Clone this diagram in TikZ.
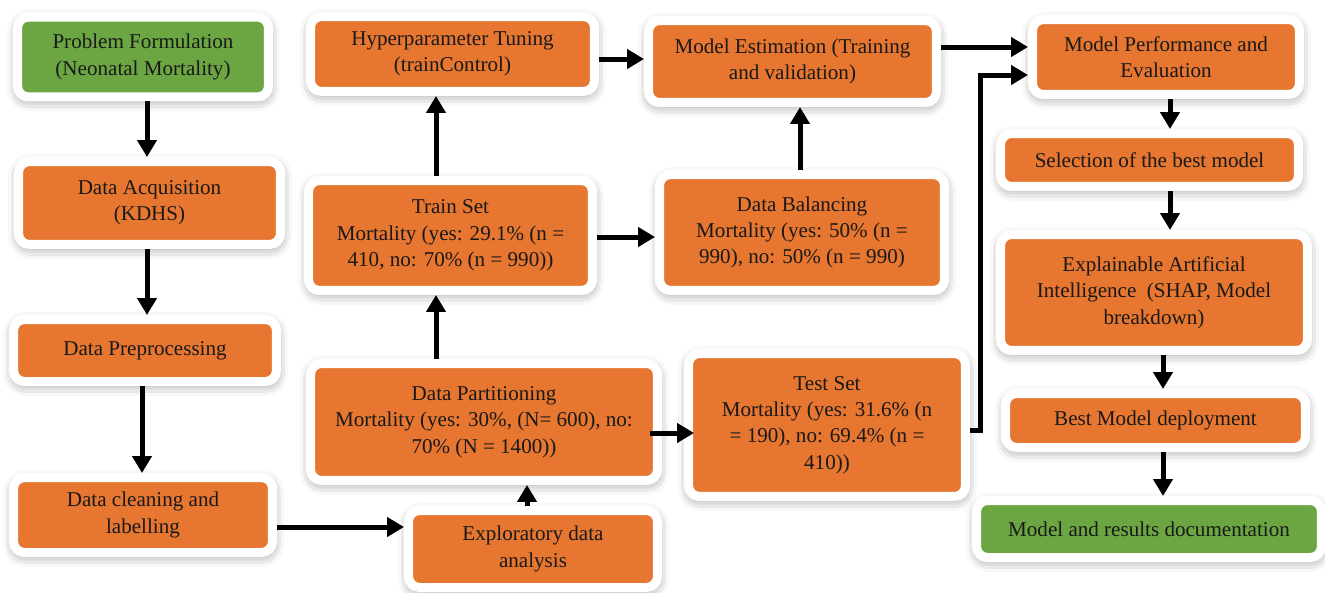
\documentclass[tikz,border=0pt]{standalone}
\usepackage{fontspec}
\setmainfont{Liberation Serif}
\usepackage{tikz}
\usetikzlibrary{arrows.meta,shadows.blur}
\definecolor{stageorange}{RGB}{230,118,48}
\definecolor{stagegreen}{RGB}{108,166,66}
\tikzset{
stage/.style={rounded corners=0.22cm, fill=stageorange, draw=white, line width=0.18cm,
  align=center, inner sep=0pt, text=black!90, font=\fontsize{12}{15}\selectfont,
  blur shadow={shadow xshift=0.01cm, shadow yshift=-0.07cm, shadow blur radius=0.22cm, shadow opacity=45}},
arr/.style={line width=0.1cm, -{Triangle[width=0.38cm,length=0.34cm]}}
}

\begin{document}
\begin{tikzpicture}[x=0.02cm,y=-0.02cm]
\useasboundingbox (0,0) rectangle (1325,592);
% first column
\node[stage, fill=stagegreen, minimum width=5.02cm, minimum height=1.60cm] (pf) at (143,57) {Problem Formulation\\(Neonatal Mortality)};
\node[stage, minimum width=5.24cm, minimum height=1.66cm] (da) at (149.5,203) {Data Acquisition\\(KDHS)};
\node[stage, minimum width=5.26cm, minimum height=1.24cm] (dp) at (145,350.5) {Data Preprocessing};
\node[stage, minimum width=5.18cm, minimum height=1.50cm] (dc) at (143,515) {Data cleaning and\\labelling};
% middle columns
\node[stage, minimum width=4.98cm, minimum height=1.54cm] (eda) at (533,549) {Exploratory data\\analysis};
\node[stage, minimum width=6.94cm, minimum height=2.34cm] (part) at (484,422) {Data Partitioning\\Mortality (yes: 30\%, (N= 600), no:\\70\% (N = 1400))};
\node[stage, minimum width=5.68cm, minimum height=2.20cm] (train) at (450.5,235.5) {Train Set\\Mortality (yes: 29.1\% (n =\\410, no: 70\% (n = 990))};
\node[stage, minimum width=5.68cm, minimum height=1.50cm] (hyper) at (452.5,54) {Hyperparameter Tuning\\(trainControl)};
\node[stage, minimum width=5.76cm, minimum height=1.64cm] (est) at (792.5,61.5) {Model Estimation (Training\\and validation)};
\node[stage, minimum width=5.70cm, minimum height=2.32cm] (bal) at (802,232.5) {Data Balancing\\Mortality (yes: 50\% (n =\\990), no: 50\% (n = 990)};
\node[stage, minimum width=5.54cm, minimum height=2.86cm] (test) at (827,425) {Test Set\\Mortality (yes: 31.6\% (n\\= 190), no: 69.4\% (n =\\410))};
% last column
\node[stage, minimum width=5.34cm, minimum height=1.50cm] (perf) at (1166,57) {Model Performance and\\Evaluation};
\node[stage, minimum width=5.96cm, minimum height=1.06cm] (sel) at (1149.5,160) {Selection of the best model};
\node[stage, minimum width=6.14cm, minimum height=2.32cm] (xai) at (1154,292.5) {Explainable Artificial\\Intelligence~ (SHAP, Model\\breakdown)};
\node[stage, minimum width=6.00cm, minimum height=1.08cm] (dep) at (1155.5,420.5) {Best Model deployment};
\node[stage, fill=stagegreen, minimum width=6.90cm, minimum height=1.14cm] (doc) at (1149,529) {Model and results documentation};

\coordinate (c1) at (147,0);
\coordinate (c2) at (142,0);
\coordinate (c3) at (527,0);
\coordinate (c4) at (436,0);
\coordinate (c5) at (800,0);
\coordinate (c6) at (1170,0);
\coordinate (c7) at (1163,0);
\coordinate (r1) at (0,527);
\coordinate (r2) at (0,59);
\coordinate (r3) at (0,237);
\coordinate (r4) at (0,47);
\coordinate (r5) at (0,433);
\coordinate (kink) at (980,430);
\coordinate (up) at (980,75);

\draw[arr] (pf.south -| c1) -- (da.north -| c1);
\draw[arr] (da.south -| c1) -- (dp.north -| c1);
\draw[arr] (dp.south -| c2) -- (dc.north -| c2);
\draw[arr] (dc.east |- r1) -- (eda.west |- r1);
\draw[arr] (eda.north -| c3) -- (part.south -| c3);
\draw[arr] (part.north -| c4) -- (train.south -| c4);
\draw[arr] (train.north -| c4) -- (hyper.south -| c4);
\draw[arr] (hyper.east |- r2) -- (est.west |- r2);
\draw[arr] (train.east |- r3) -- (bal.west |- r3);
\draw[arr] (bal.north -| c5) -- (est.south -| c5);
\draw[arr] ([xshift=-0.24cm]part.east |- r5) -- ([xshift=0.2cm]test.west |- r5);
\draw[arr] (est.east |- r4) -- (perf.west |- r4);
\draw[arr] (test.east |- kink) -- (kink) -- (up) -- (up -| perf.west);
\draw[arr] (perf.south -| c6) -- (sel.north -| c6);
\draw[arr] (sel.south -| c6) -- (xai.north -| c6);
\draw[arr] (xai.south -| c7) -- (dep.north -| c7);
\draw[arr] (dep.south -| c7) -- (doc.north -| c7);
\end{tikzpicture}
\end{document}
